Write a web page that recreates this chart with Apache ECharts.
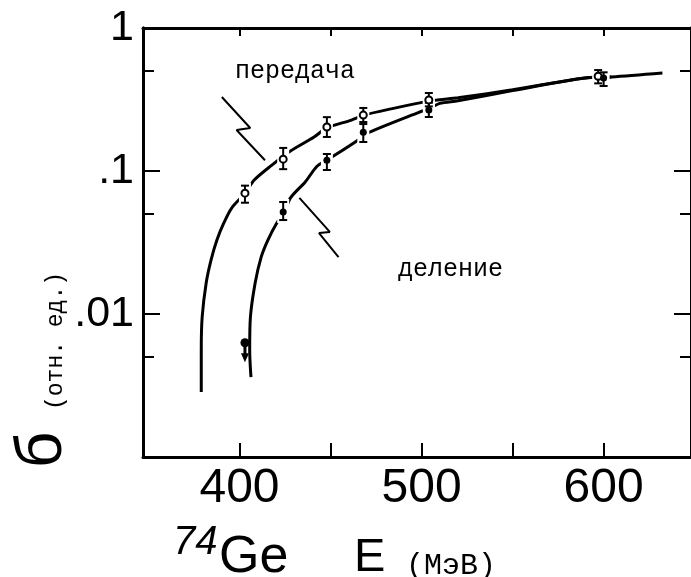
<!DOCTYPE html>
<html>
<head>
<meta charset="utf-8">
<script src="https://cdn.jsdelivr.net/npm/echarts@6/dist/echarts.min.js"></script>
<style>
  html, body { margin: 0; padding: 0; background: #fff; }
  #main { width: 691px; height: 577px; }
</style>
</head>
<body>
<div id="main"></div>
<script>
// оси
var xTicks = [400, 450, 500, 550, 600];
var xLabels = [400, 500, 600];
var yMajorTicks = [0.01, 0.1];
var yMinorTicks = [0.005, 0.05, 0.5];
var yLabels = [0.01, 0.1, 1];
var yLabelText = ['.01', '.1', '1'];

// передача (открытые кружки)
var transferE = [403, 424, 448, 468, 504, 597];
var transferSigma = [0.070, 0.121, 0.203, 0.246, 0.314, 0.46];
var transferLow = [0.060, 0.103, 0.173, 0.220, 0.283, 0.41];
var transferHigh = [0.079, 0.145, 0.238, 0.276, 0.351, 0.508];

// деление (закрытые кружки)
var fissionE = [424, 448, 468, 504, 600];
var fissionSigma = [0.0516, 0.119, 0.187, 0.267, 0.447];
var fissionLow = [0.0454, 0.1016, 0.1595, 0.2385, 0.393];
var fissionHigh = [0.0607, 0.1315, 0.213, 0.300, 0.49];

// верхний предел при 403 МэВ
var limitE = [403];
var limitSigma = [0.0063];
var limitTo = [0.0046];

// кривые
var transferCurveE = [379.0, 379.0, 379.5, 381.7, 384.4, 387.6, 391.4, 395.7, 403.2, 408.1, 417.8, 428.0, 441.0, 448.0, 461.5, 468.5, 483.3, 504.0, 510.0, 520.0, 550.0, 589.8, 604.3, 632.3];
var transferCurveS = [0.00285, 0.0056, 0.00953, 0.0165, 0.0239, 0.0329, 0.0433, 0.0551, 0.0702, 0.0865, 0.110, 0.138, 0.173, 0.200, 0.227, 0.246, 0.272, 0.308, 0.315, 0.325, 0.37, 0.447, 0.454, 0.484];
var fissionCurveE = [406.3, 405.6, 406.0, 408.6, 411.9, 415.6, 420.5, 424.8, 428.0, 436.1, 442.6, 448.0, 465.2, 468.5, 499.2, 504.0, 510.0, 520.0, 550.0, 589.8, 604.3];
var fissionCurveS = [0.00362, 0.0056, 0.00953, 0.0165, 0.0250, 0.0329, 0.0433, 0.0516, 0.0648, 0.0838, 0.108, 0.119, 0.165, 0.18, 0.259, 0.272, 0.297, 0.31, 0.365, 0.447, 0.454];

// стрелки-указатели к подписям
var transferPointerE = [390.3, 405.9, 398.4, 414.0];
var transferPointerS = [0.329, 0.200, 0.1935, 0.119];
var fissionPointerE = [432.9, 449.6, 443.7, 454.4];
var fissionPointerS = [0.0648, 0.0375, 0.0368, 0.0250];

function zip(a, b, c) {
    var out = [];
    for (var i = 0; i < a.length; i++) {
        out.push(c ? [a[i], b[i], c[i]] : [a[i], b[i]]);
    }
    return out;
}

function gapItem(params, api) {
    var top = api.coord([api.value(0), api.value(2)]);
    var bot = api.coord([api.value(0), api.value(1)]);
    return {
        type: 'rect',
        shape: { x: top[0] - 6, y: top[1] - 3, width: 12, height: bot[1] - top[1] + 6 },
        style: { fill: '#fff' }
    };
}

function barItem(params, api) {
    var top = api.coord([api.value(0), api.value(2)]);
    var bot = api.coord([api.value(0), api.value(1)]);
    var st = { stroke: '#000', lineWidth: 2 };
    return {
        type: 'group',
        children: [
            { type: 'line', shape: { x1: top[0], y1: top[1], x2: bot[0], y2: bot[1] }, style: st },
            { type: 'line', shape: { x1: top[0] - 4, y1: top[1], x2: top[0] + 4, y2: top[1] }, style: st },
            { type: 'line', shape: { x1: bot[0] - 4, y1: bot[1], x2: bot[0] + 4, y2: bot[1] }, style: st }
        ]
    };
}

function limitItem(params, api) {
    var p = api.coord([api.value(0), api.value(1)]);
    var q = api.coord([api.value(0), api.value(2)]);
    return {
        type: 'group',
        children: [
            { type: 'line', shape: { x1: p[0], y1: p[1], x2: q[0], y2: q[1] - 5 }, style: { stroke: '#000', lineWidth: 3 } },
            { type: 'polygon', shape: { points: [[q[0] - 4, q[1] - 9], [q[0] + 4, q[1] - 9], [q[0], q[1]]] }, style: { fill: '#000' } }
        ]
    };
}

var frameLine = { show: true, onZero: false, lineStyle: { color: '#000', width: 3 } };
var noLabel = { show: false };

function yAxisDef(pos, ticks, len, labels) {
    return {
        type: 'log', logBase: 10, min: 0.001, max: 1, position: pos,
        axisLine: frameLine,
        splitLine: { show: false },
        axisTick: { show: true, inside: true, length: len, customValues: ticks, lineStyle: { color: '#000', width: 2 } },
        axisLabel: labels ? {
            show: true, customValues: yLabels, margin: 9, showMaxLabel: true, showMinLabel: true,
            color: '#000', fontSize: 43, fontFamily: 'Liberation Sans',
            formatter: function (v) {
                var k = Math.round(Math.log(v) / Math.LN10);
                return yLabelText[k + 2] || '';
            }
        } : noLabel
    };
}

var myChart = echarts.init(document.getElementById('main'), null, { renderer: 'canvas' });

var option = {
    backgroundColor: '#fff',
    animation: false,
    grid: { left: 143, right: -10, top: 28, bottom: 120, containLabel: false },
    xAxis: [
        {
            type: 'value', min: 347, max: 648, position: 'bottom',
            axisLine: frameLine, splitLine: { show: false },
            axisTick: { show: true, inside: true, length: 14, customValues: xTicks, lineStyle: { color: '#000', width: 2 } },
            axisLabel: { show: true, customValues: xLabels, margin: 8, color: '#000', fontSize: 48, fontFamily: 'Liberation Sans' }
        },
        {
            type: 'value', min: 347, max: 648, position: 'top',
            axisLine: frameLine, splitLine: { show: false },
            axisTick: { show: true, inside: true, length: 8, customValues: xTicks, lineStyle: { color: '#000', width: 2 } },
            axisLabel: noLabel
        }
    ],
    yAxis: [
        yAxisDef('left', yMajorTicks, 17, true),
        yAxisDef('left', yMinorTicks, 11, false),
        yAxisDef('right', yMajorTicks, 17, false),
        yAxisDef('right', yMinorTicks, 11, false)
    ],
    series: [
        {
            name: 'передача кривая', type: 'line', smooth: 0.3, showSymbol: false, z: 2,
            data: zip(transferCurveE, transferCurveS),
            lineStyle: { color: '#000', width: 3 }
        },
        {
            name: 'деление кривая', type: 'line', smooth: 0.3, showSymbol: false, z: 2,
            data: zip(fissionCurveE, fissionCurveS),
            lineStyle: { color: '#000', width: 3 }
        },
        {
            name: 'указатель передача', type: 'line', showSymbol: false, z: 2,
            data: zip(transferPointerE, transferPointerS),
            lineStyle: { color: '#000', width: 2 }
        },
        {
            name: 'указатель деление', type: 'line', showSymbol: false, z: 2,
            data: zip(fissionPointerE, fissionPointerS),
            lineStyle: { color: '#000', width: 2 }
        },
        { type: 'custom', z: 3, renderItem: gapItem, data: zip(transferE, transferLow, transferHigh) },
        { type: 'custom', z: 3, renderItem: gapItem, data: zip(fissionE, fissionLow, fissionHigh) },
        { type: 'custom', z: 4, renderItem: barItem, data: zip(transferE, transferLow, transferHigh) },
        { type: 'custom', z: 4, renderItem: barItem, data: zip(fissionE, fissionLow, fissionHigh) },
        { type: 'custom', z: 4, renderItem: limitItem, data: zip(limitE, limitSigma, limitTo) },
        {
            name: 'передача', type: 'scatter', z: 5, symbol: 'circle', symbolSize: 7,
            data: zip(transferE, transferSigma),
            itemStyle: { color: '#fff', borderColor: '#000', borderWidth: 2, opacity: 1 }
        },
        {
            name: 'деление', type: 'scatter', z: 5, symbol: 'circle', symbolSize: 7,
            data: zip(fissionE, fissionSigma),
            itemStyle: { color: '#000', opacity: 1 }
        },
        {
            name: 'деление предел', type: 'scatter', z: 5, symbol: 'circle', symbolSize: 9,
            data: zip(limitE, limitSigma),
            itemStyle: { color: '#000', opacity: 1 }
        }
    ],
    graphic: [
        { type: 'text', x: 235, y: 71, style: { text: 'передача', font: '25px "Liberation Mono"', fill: '#000', textAlign: 'left', textVerticalAlign: 'middle' } },
        { type: 'text', x: 398, y: 269, style: { text: 'деление', font: '25px "Liberation Mono"', fill: '#000', textAlign: 'left', textVerticalAlign: 'middle' } },
        { type: 'text', x: 173, y: 543, style: { text: '74', font: 'italic 40px "Liberation Sans"', fill: '#000', textAlign: 'left', textVerticalAlign: 'middle' } },
        { type: 'text', x: 219, y: 558, style: { text: 'Ge', font: '52px "Liberation Sans"', fill: '#000', textAlign: 'left', textVerticalAlign: 'middle' } },
        { type: 'text', x: 354, y: 558, style: { text: 'E', font: '47px "Liberation Sans"', fill: '#000', textAlign: 'left', textVerticalAlign: 'middle' } },
        { type: 'text', x: 406, y: 566, style: { text: '(МэВ)', font: '30px "Liberation Mono"', fill: '#000', textAlign: 'left', textVerticalAlign: 'middle' } },
        { type: 'text', x: 43, y: 450, rotation: Math.PI / 2, style: { text: 'б', font: '64px "Liberation Sans"', fill: '#000', textAlign: 'center', textVerticalAlign: 'middle' } },
        { type: 'text', x: 56, y: 341, rotation: Math.PI / 2, style: { text: '(отн. ед.)', font: '23px "Liberation Mono"', fill: '#000', textAlign: 'center', textVerticalAlign: 'middle' } }
    ]
};

myChart.setOption(option);
</script>
</body>
</html>
